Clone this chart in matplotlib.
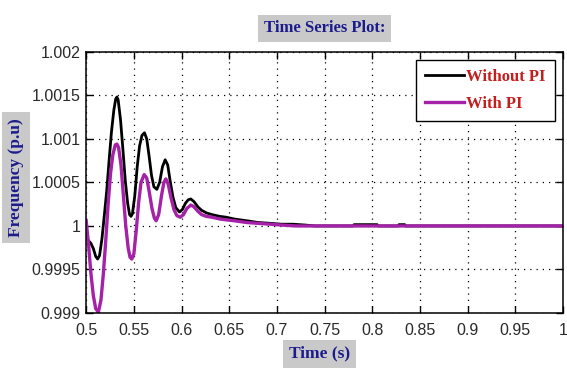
import numpy as np
import matplotlib
matplotlib.use("Agg")
import matplotlib.pyplot as plt

# --- data (time in s, frequency in p.u) ---
t_without = [0.500, 0.5025, 0.505, 0.5075, 0.510, 0.512, 0.514, 0.5165, 0.519, 0.5215,
             0.524, 0.5265, 0.529, 0.531, 0.5322, 0.5335, 0.536, 0.5385, 0.541, 0.5435,
             0.5455, 0.547, 0.5485, 0.551, 0.5535, 0.556, 0.5585, 0.5611, 0.5635, 0.566,
             0.5685, 0.571, 0.5741, 0.577, 0.580, 0.5828, 0.5855, 0.588, 0.591, 0.594,
             0.5978, 0.601, 0.604, 0.607, 0.6097, 0.613, 0.617, 0.621, 0.626, 0.632,
             0.640, 0.647, 0.655, 0.668, 0.680, 0.693, 0.705, 0.717, 0.730, 0.740,
             0.780, 0.781, 0.805, 0.806, 0.827, 0.828, 0.834, 0.835, 1.000]
f_without = [0.99988, 0.99983, 0.99980, 0.99974, 0.99965, 0.99962, 0.99966, 0.99985, 1.00012, 1.00040,
             1.00075, 1.00108, 1.00133, 1.00146, 1.00148, 1.00145, 1.00122, 1.00088, 1.00052, 1.00026,
             1.00013, 1.00011, 1.00014, 1.00035, 1.00068, 1.00092, 1.00104, 1.00107, 1.00100, 1.00080,
             1.00058, 1.00045, 1.00042, 1.00050, 1.00068, 1.00076, 1.00070, 1.00052, 1.00033, 1.00021,
             1.00016, 1.00019, 1.00026, 1.00030, 1.00031, 1.00028, 1.00022, 1.00018, 1.00015, 1.00013,
             1.00011, 1.00010, 1.00008, 1.00006, 1.00004, 1.00003, 1.00002, 1.00002, 1.00001, 1.00000,
             1.00000, 1.000015, 1.000015, 1.00000, 1.00000, 1.000015, 1.000015, 1.00000, 1.00000]

t_with = [0.500, 0.5025, 0.505, 0.5075, 0.510, 0.5128, 0.5155, 0.518, 0.5205, 0.523,
          0.5255, 0.528, 0.5305, 0.5322, 0.534, 0.5365, 0.539, 0.5415, 0.544, 0.546,
          0.5478, 0.550, 0.5525, 0.555, 0.5575, 0.5608, 0.5635, 0.566, 0.569, 0.5715,
          0.5734, 0.576, 0.579, 0.5815, 0.5835, 0.586, 0.589, 0.592, 0.595, 0.5985,
          0.602, 0.6055, 0.6097, 0.613, 0.617, 0.621, 0.626, 0.632, 0.640, 0.647,
          0.655, 0.668, 0.680, 0.693, 0.705, 0.720, 1.000]
f_with = [1.00006, 0.99978, 0.99945, 0.99920, 0.99905, 0.99901, 0.99915, 0.99945, 0.99983, 1.00025,
          1.00060, 1.00082, 1.00093, 1.00094, 1.00090, 1.00070, 1.00035, 1.00000, 0.99975, 0.99964,
          0.99962, 0.99968, 0.99995, 1.00027, 1.00050, 1.00059, 1.00055, 1.00040, 1.00020, 1.00009,
          1.00006, 1.00013, 1.00035, 1.00050, 1.00054, 1.00048, 1.00032, 1.00019, 1.00012, 1.00010,
          1.00013, 1.00020, 1.00024, 1.00022, 1.00017, 1.00013, 1.00011, 1.00010, 1.00008, 1.00007,
          1.00006, 1.00004, 1.00003, 1.00002, 1.00001, 1.00000, 1.00000]

x_ticks = [0.5, 0.55, 0.6, 0.65, 0.7, 0.75, 0.8, 0.85, 0.9, 0.95, 1]
x_ticklabels = ['0.5', '0.55', '0.6', '0.65', '0.7', '0.75', '0.8', '0.85', '0.9', '0.95', '1']
y_ticks = [0.999, 0.9995, 1.0, 1.0005, 1.001, 1.0015, 1.002]
y_ticklabels = ['0.999', '0.9995', '1', '1.0005', '1.001', '1.0015', '1.002']

serif_bold = dict(family=['Liberation Serif', 'DejaVu Serif'], fontweight='bold')
label_box = dict(boxstyle='square,pad=0.35', facecolor='#c9c9c9', edgecolor='none')

fig = plt.figure(figsize=(5.67, 3.70), dpi=100)
ax = fig.add_axes([0.152, 0.154, 0.841, 0.706])

ax.plot(t_without, f_without, color='black', linewidth=2.0, label='Without PI')
ax.plot(t_with, f_with, color='#a421a8', linewidth=2.4, label='With PI')

ax.set_xlim(0.5, 1.0)
ax.set_ylim(0.999, 1.002)
ax.set_xticks(x_ticks)
ax.set_xticklabels(x_ticklabels)
ax.set_yticks(y_ticks)
ax.set_yticklabels(y_ticklabels)
ax.tick_params(direction='in', top=True, right=True, length=5, width=1,
               labelsize=11.5, labelcolor='#2a2a2a')
ax.tick_params(axis='x', pad=7)
ax.tick_params(axis='y', pad=4)
for lbl in ax.get_xticklabels() + ax.get_yticklabels():
    lbl.set_family(['Liberation Sans', 'DejaVu Sans'])
for s in ax.spines.values():
    s.set_linewidth(1.1)
ax.grid(True, color='black', linestyle=(0, (1, 4)), linewidth=0.9)

ax.set_title('Time Series Plot:', fontsize=12, color='#1b1b8c', pad=14,
             bbox=label_box, **serif_bold)
ax.set_xlabel('Time (s)', fontsize=12.5, color='#1b1b8c',
              bbox=label_box, **serif_bold)
ax.xaxis.set_label_coords(0.49, -0.125)
ax.set_ylabel('Frequency (p.u)', fontsize=12.5, color='#1b1b8c',
              bbox=label_box, **serif_bold)
ax.yaxis.set_label_coords(-0.13, 0.52)

leg = ax.legend(loc='upper right', fancybox=False, framealpha=1, edgecolor='black',
                prop=dict(family=['Liberation Serif', 'DejaVu Serif'], weight='bold', size=12),
                handlelength=2.3, handletextpad=0.15, borderpad=0.55, labelspacing=0.65,
                borderaxespad=0.5)
leg.get_frame().set_linewidth(1.0)
for txt in leg.get_texts():
    txt.set_color('#c41e1e')

fig.savefig('out.png', dpi=100)
